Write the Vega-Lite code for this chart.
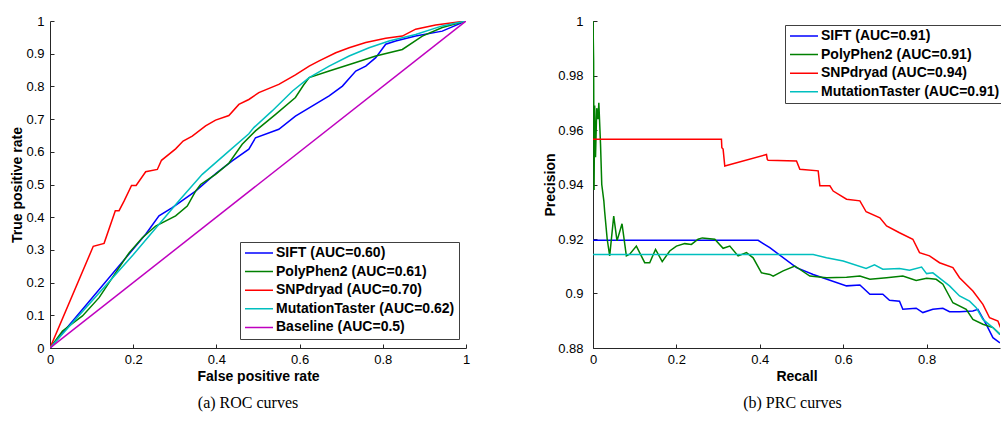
{
  "$schema": "https://vega.github.io/schema/vega-lite/v6.json",
  "padding": {"left": 10, "top": 15, "right": 0, "bottom": 4},
  "background": "white",
  "spacing": 73,
  "config": {
    "view": {"stroke": null},
    "font": "Liberation Sans",
    "axis": {
      "grid": false,
      "domainColor": "#262626",
      "tickColor": "#262626",
      "tickSize": -4,
      "labelFont": "Liberation Sans",
      "labelFontSize": 13,
      "labelColor": "black",
      "labelFlush": false,
      "labelOverlap": false,
      "titleFont": "Liberation Sans",
      "titleFontSize": 14,
      "titleFontWeight": "bold",
      "titleColor": "black"
    },
    "legend": {
      "orient": "none",
      "symbolType": "stroke",
      "symbolSize": 784,
      "symbolStrokeWidth": 1.5,
      "labelFont": "Liberation Sans",
      "labelFontSize": 14,
      "labelFontWeight": "bold",
      "labelColor": "black",
      "labelLimit": 400,
      "labelOffset": 2,
      "strokeColor": "#404040",
      "fillColor": "white",
      "padding": 4,
      "rowPadding": 4.6,
      "clipHeight": 14
    }
  },
  "resolve": {"scale": {"color": "independent"}, "legend": {"color": "independent"}},
  "hconcat": [
    {
      "width": 416,
      "height": 327,
      "title": {"text": "(a) ROC curves", "orient": "bottom", "font": "Liberation Serif", "fontSize": 16, "fontWeight": "normal", "color": "black", "frame": "group", "anchor": "middle", "dx": -10, "offset": 12},
      "data": {"values": [
        {"x": 0, "y": 0, "s": "SIFT (AUC=0.60)"},
        {"x": 0.23, "y": 0.348, "s": "SIFT (AUC=0.60)"},
        {"x": 0.262, "y": 0.404, "s": "SIFT (AUC=0.60)"},
        {"x": 0.294, "y": 0.429, "s": "SIFT (AUC=0.60)"},
        {"x": 0.35, "y": 0.48, "s": "SIFT (AUC=0.60)"},
        {"x": 0.4, "y": 0.535, "s": "SIFT (AUC=0.60)"},
        {"x": 0.438, "y": 0.572, "s": "SIFT (AUC=0.60)"},
        {"x": 0.478, "y": 0.608, "s": "SIFT (AUC=0.60)"},
        {"x": 0.494, "y": 0.643, "s": "SIFT (AUC=0.60)"},
        {"x": 0.55, "y": 0.669, "s": "SIFT (AUC=0.60)"},
        {"x": 0.59, "y": 0.709, "s": "SIFT (AUC=0.60)"},
        {"x": 0.63, "y": 0.74, "s": "SIFT (AUC=0.60)"},
        {"x": 0.671, "y": 0.771, "s": "SIFT (AUC=0.60)"},
        {"x": 0.703, "y": 0.801, "s": "SIFT (AUC=0.60)"},
        {"x": 0.735, "y": 0.847, "s": "SIFT (AUC=0.60)"},
        {"x": 0.759, "y": 0.862, "s": "SIFT (AUC=0.60)"},
        {"x": 0.783, "y": 0.888, "s": "SIFT (AUC=0.60)"},
        {"x": 0.807, "y": 0.929, "s": "SIFT (AUC=0.60)"},
        {"x": 0.831, "y": 0.939, "s": "SIFT (AUC=0.60)"},
        {"x": 0.879, "y": 0.954, "s": "SIFT (AUC=0.60)"},
        {"x": 0.943, "y": 0.969, "s": "SIFT (AUC=0.60)"},
        {"x": 1, "y": 1, "s": "SIFT (AUC=0.60)"},

        {"x": 0, "y": 0, "s": "PolyPhen2 (AUC=0.61)"},
        {"x": 0.03, "y": 0.052, "s": "PolyPhen2 (AUC=0.61)"},
        {"x": 0.078, "y": 0.098, "s": "PolyPhen2 (AUC=0.61)"},
        {"x": 0.118, "y": 0.154, "s": "PolyPhen2 (AUC=0.61)"},
        {"x": 0.15, "y": 0.215, "s": "PolyPhen2 (AUC=0.61)"},
        {"x": 0.19, "y": 0.291, "s": "PolyPhen2 (AUC=0.61)"},
        {"x": 0.222, "y": 0.337, "s": "PolyPhen2 (AUC=0.61)"},
        {"x": 0.254, "y": 0.373, "s": "PolyPhen2 (AUC=0.61)"},
        {"x": 0.302, "y": 0.404, "s": "PolyPhen2 (AUC=0.61)"},
        {"x": 0.33, "y": 0.434, "s": "PolyPhen2 (AUC=0.61)"},
        {"x": 0.35, "y": 0.48, "s": "PolyPhen2 (AUC=0.61)"},
        {"x": 0.362, "y": 0.5, "s": "PolyPhen2 (AUC=0.61)"},
        {"x": 0.398, "y": 0.531, "s": "PolyPhen2 (AUC=0.61)"},
        {"x": 0.43, "y": 0.565, "s": "PolyPhen2 (AUC=0.61)"},
        {"x": 0.462, "y": 0.623, "s": "PolyPhen2 (AUC=0.61)"},
        {"x": 0.494, "y": 0.664, "s": "PolyPhen2 (AUC=0.61)"},
        {"x": 0.543, "y": 0.715, "s": "PolyPhen2 (AUC=0.61)"},
        {"x": 0.59, "y": 0.766, "s": "PolyPhen2 (AUC=0.61)"},
        {"x": 0.61, "y": 0.805, "s": "PolyPhen2 (AUC=0.61)"},
        {"x": 0.623, "y": 0.827, "s": "PolyPhen2 (AUC=0.61)"},
        {"x": 0.671, "y": 0.847, "s": "PolyPhen2 (AUC=0.61)"},
        {"x": 0.735, "y": 0.873, "s": "PolyPhen2 (AUC=0.61)"},
        {"x": 0.783, "y": 0.893, "s": "PolyPhen2 (AUC=0.61)"},
        {"x": 0.847, "y": 0.913, "s": "PolyPhen2 (AUC=0.61)"},
        {"x": 0.895, "y": 0.954, "s": "PolyPhen2 (AUC=0.61)"},
        {"x": 0.943, "y": 0.98, "s": "PolyPhen2 (AUC=0.61)"},
        {"x": 1, "y": 1, "s": "PolyPhen2 (AUC=0.61)"},

        {"x": 0, "y": 0, "s": "SNPdryad (AUC=0.70)"},
        {"x": 0.104, "y": 0.311, "s": "SNPdryad (AUC=0.70)"},
        {"x": 0.13, "y": 0.32, "s": "SNPdryad (AUC=0.70)"},
        {"x": 0.157, "y": 0.42, "s": "SNPdryad (AUC=0.70)"},
        {"x": 0.166, "y": 0.42, "s": "SNPdryad (AUC=0.70)"},
        {"x": 0.178, "y": 0.449, "s": "SNPdryad (AUC=0.70)"},
        {"x": 0.196, "y": 0.497, "s": "SNPdryad (AUC=0.70)"},
        {"x": 0.207, "y": 0.497, "s": "SNPdryad (AUC=0.70)"},
        {"x": 0.23, "y": 0.539, "s": "SNPdryad (AUC=0.70)"},
        {"x": 0.258, "y": 0.546, "s": "SNPdryad (AUC=0.70)"},
        {"x": 0.268, "y": 0.574, "s": "SNPdryad (AUC=0.70)"},
        {"x": 0.302, "y": 0.609, "s": "SNPdryad (AUC=0.70)"},
        {"x": 0.32, "y": 0.633, "s": "SNPdryad (AUC=0.70)"},
        {"x": 0.342, "y": 0.648, "s": "SNPdryad (AUC=0.70)"},
        {"x": 0.374, "y": 0.679, "s": "SNPdryad (AUC=0.70)"},
        {"x": 0.398, "y": 0.697, "s": "SNPdryad (AUC=0.70)"},
        {"x": 0.43, "y": 0.711, "s": "SNPdryad (AUC=0.70)"},
        {"x": 0.454, "y": 0.745, "s": "SNPdryad (AUC=0.70)"},
        {"x": 0.478, "y": 0.76, "s": "SNPdryad (AUC=0.70)"},
        {"x": 0.502, "y": 0.781, "s": "SNPdryad (AUC=0.70)"},
        {"x": 0.55, "y": 0.806, "s": "SNPdryad (AUC=0.70)"},
        {"x": 0.59, "y": 0.835, "s": "SNPdryad (AUC=0.70)"},
        {"x": 0.623, "y": 0.862, "s": "SNPdryad (AUC=0.70)"},
        {"x": 0.647, "y": 0.878, "s": "SNPdryad (AUC=0.70)"},
        {"x": 0.687, "y": 0.903, "s": "SNPdryad (AUC=0.70)"},
        {"x": 0.719, "y": 0.918, "s": "SNPdryad (AUC=0.70)"},
        {"x": 0.759, "y": 0.934, "s": "SNPdryad (AUC=0.70)"},
        {"x": 0.807, "y": 0.947, "s": "SNPdryad (AUC=0.70)"},
        {"x": 0.847, "y": 0.954, "s": "SNPdryad (AUC=0.70)"},
        {"x": 0.879, "y": 0.975, "s": "SNPdryad (AUC=0.70)"},
        {"x": 0.927, "y": 0.988, "s": "SNPdryad (AUC=0.70)"},
        {"x": 1, "y": 1, "s": "SNPdryad (AUC=0.70)"},

        {"x": 0, "y": 0, "s": "MutationTaster (AUC=0.62)"},
        {"x": 0.2, "y": 0.285, "s": "MutationTaster (AUC=0.62)"},
        {"x": 0.31, "y": 0.45, "s": "MutationTaster (AUC=0.62)"},
        {"x": 0.366, "y": 0.531, "s": "MutationTaster (AUC=0.62)"},
        {"x": 0.43, "y": 0.602, "s": "MutationTaster (AUC=0.62)"},
        {"x": 0.478, "y": 0.655, "s": "MutationTaster (AUC=0.62)"},
        {"x": 0.49, "y": 0.674, "s": "MutationTaster (AUC=0.62)"},
        {"x": 0.534, "y": 0.725, "s": "MutationTaster (AUC=0.62)"},
        {"x": 0.583, "y": 0.786, "s": "MutationTaster (AUC=0.62)"},
        {"x": 0.623, "y": 0.827, "s": "MutationTaster (AUC=0.62)"},
        {"x": 0.671, "y": 0.862, "s": "MutationTaster (AUC=0.62)"},
        {"x": 0.719, "y": 0.893, "s": "MutationTaster (AUC=0.62)"},
        {"x": 0.767, "y": 0.918, "s": "MutationTaster (AUC=0.62)"},
        {"x": 0.815, "y": 0.939, "s": "MutationTaster (AUC=0.62)"},
        {"x": 0.879, "y": 0.959, "s": "MutationTaster (AUC=0.62)"},
        {"x": 0.943, "y": 0.985, "s": "MutationTaster (AUC=0.62)"},
        {"x": 1, "y": 1, "s": "MutationTaster (AUC=0.62)"},

        {"x": 0, "y": 0, "s": "Baseline (AUC=0.5)"},
        {"x": 1, "y": 1, "s": "Baseline (AUC=0.5)"}
      ]},
      "mark": {"type": "line", "strokeWidth": 1.5, "clip": true},
      "encoding": {
        "x": {"field": "x", "type": "quantitative", "scale": {"domain": [0, 1], "nice": false, "zero": false},
              "axis": {"title": "False positive rate", "values": [0, 0.2, 0.4, 0.6, 0.8, 1], "format": "~g", "labelPadding": 9, "titlePadding": 3}},
        "y": {"field": "y", "type": "quantitative", "scale": {"domain": [0, 1], "nice": false, "zero": false},
              "axis": {"title": "True positive rate", "values": [0, 0.1, 0.2, 0.3, 0.4, 0.5, 0.6, 0.7, 0.8, 0.9, 1], "format": "~g", "labelPadding": 10, "titlePadding": 1}},
        "color": {"field": "s", "type": "nominal",
                  "scale": {"domain": ["SIFT (AUC=0.60)", "PolyPhen2 (AUC=0.61)", "SNPdryad (AUC=0.70)", "MutationTaster (AUC=0.62)", "Baseline (AUC=0.5)"],
                            "range": ["#0000FF", "#008000", "#FF0000", "#00BFBF", "#BF00BF"]},
                  "legend": {"title": null, "orient": "none", "legendX": 190, "legendY": 221}}
      }
    },
    {
      "width": 407,
      "height": 327,
      "title": {"text": "(b) PRC curves", "orient": "bottom", "font": "Liberation Serif", "fontSize": 16, "fontWeight": "normal", "color": "black", "frame": "group", "anchor": "middle", "dx": -4, "offset": 12},
      "data": {"values": [
        {"x": 0, "y": 0.9195, "s": "SIFT (AUC=0.91)"},
        {"x": 0.396, "y": 0.9195, "s": "SIFT (AUC=0.91)"},
        {"x": 0.424, "y": 0.9168, "s": "SIFT (AUC=0.91)"},
        {"x": 0.488, "y": 0.9095, "s": "SIFT (AUC=0.91)"},
        {"x": 0.528, "y": 0.907, "s": "SIFT (AUC=0.91)"},
        {"x": 0.608, "y": 0.9028, "s": "SIFT (AUC=0.91)"},
        {"x": 0.64, "y": 0.9031, "s": "SIFT (AUC=0.91)"},
        {"x": 0.664, "y": 0.8997, "s": "SIFT (AUC=0.91)"},
        {"x": 0.695, "y": 0.8997, "s": "SIFT (AUC=0.91)"},
        {"x": 0.711, "y": 0.8975, "s": "SIFT (AUC=0.91)"},
        {"x": 0.735, "y": 0.8972, "s": "SIFT (AUC=0.91)"},
        {"x": 0.743, "y": 0.8942, "s": "SIFT (AUC=0.91)"},
        {"x": 0.775, "y": 0.8946, "s": "SIFT (AUC=0.91)"},
        {"x": 0.791, "y": 0.893, "s": "SIFT (AUC=0.91)"},
        {"x": 0.815, "y": 0.8942, "s": "SIFT (AUC=0.91)"},
        {"x": 0.839, "y": 0.8946, "s": "SIFT (AUC=0.91)"},
        {"x": 0.855, "y": 0.8933, "s": "SIFT (AUC=0.91)"},
        {"x": 0.879, "y": 0.8933, "s": "SIFT (AUC=0.91)"},
        {"x": 0.911, "y": 0.8936, "s": "SIFT (AUC=0.91)"},
        {"x": 0.923, "y": 0.8942, "s": "SIFT (AUC=0.91)"},
        {"x": 0.943, "y": 0.8887, "s": "SIFT (AUC=0.91)"},
        {"x": 0.959, "y": 0.8838, "s": "SIFT (AUC=0.91)"},
        {"x": 0.976, "y": 0.8819, "s": "SIFT (AUC=0.91)"},

        {"x": 0, "y": 1.0, "s": "PolyPhen2 (AUC=0.91)"},
        {"x": 0.0015, "y": 0.985, "s": "PolyPhen2 (AUC=0.91)"},
        {"x": 0.0025, "y": 0.938, "s": "PolyPhen2 (AUC=0.91)"},
        {"x": 0.004, "y": 0.969, "s": "PolyPhen2 (AUC=0.91)"},
        {"x": 0.006, "y": 0.95, "s": "PolyPhen2 (AUC=0.91)"},
        {"x": 0.009, "y": 0.968, "s": "PolyPhen2 (AUC=0.91)"},
        {"x": 0.012, "y": 0.964, "s": "PolyPhen2 (AUC=0.91)"},
        {"x": 0.014, "y": 0.97, "s": "PolyPhen2 (AUC=0.91)"},
        {"x": 0.018, "y": 0.955, "s": "PolyPhen2 (AUC=0.91)"},
        {"x": 0.021, "y": 0.94, "s": "PolyPhen2 (AUC=0.91)"},
        {"x": 0.026, "y": 0.934, "s": "PolyPhen2 (AUC=0.91)"},
        {"x": 0.028, "y": 0.93, "s": "PolyPhen2 (AUC=0.91)"},
        {"x": 0.034, "y": 0.92, "s": "PolyPhen2 (AUC=0.91)"},
        {"x": 0.04, "y": 0.9138, "s": "PolyPhen2 (AUC=0.91)"},
        {"x": 0.0497, "y": 0.9284, "s": "PolyPhen2 (AUC=0.91)"},
        {"x": 0.0576, "y": 0.9193, "s": "PolyPhen2 (AUC=0.91)"},
        {"x": 0.0696, "y": 0.9256, "s": "PolyPhen2 (AUC=0.91)"},
        {"x": 0.08, "y": 0.9138, "s": "PolyPhen2 (AUC=0.91)"},
        {"x": 0.088, "y": 0.9144, "s": "PolyPhen2 (AUC=0.91)"},
        {"x": 0.104, "y": 0.9174, "s": "PolyPhen2 (AUC=0.91)"},
        {"x": 0.124, "y": 0.9113, "s": "PolyPhen2 (AUC=0.91)"},
        {"x": 0.136, "y": 0.9113, "s": "PolyPhen2 (AUC=0.91)"},
        {"x": 0.15, "y": 0.9162, "s": "PolyPhen2 (AUC=0.91)"},
        {"x": 0.166, "y": 0.9117, "s": "PolyPhen2 (AUC=0.91)"},
        {"x": 0.184, "y": 0.9156, "s": "PolyPhen2 (AUC=0.91)"},
        {"x": 0.2, "y": 0.9174, "s": "PolyPhen2 (AUC=0.91)"},
        {"x": 0.22, "y": 0.9183, "s": "PolyPhen2 (AUC=0.91)"},
        {"x": 0.236, "y": 0.918, "s": "PolyPhen2 (AUC=0.91)"},
        {"x": 0.252, "y": 0.9199, "s": "PolyPhen2 (AUC=0.91)"},
        {"x": 0.262, "y": 0.9204, "s": "PolyPhen2 (AUC=0.91)"},
        {"x": 0.292, "y": 0.9199, "s": "PolyPhen2 (AUC=0.91)"},
        {"x": 0.312, "y": 0.9166, "s": "PolyPhen2 (AUC=0.91)"},
        {"x": 0.328, "y": 0.9174, "s": "PolyPhen2 (AUC=0.91)"},
        {"x": 0.348, "y": 0.9138, "s": "PolyPhen2 (AUC=0.91)"},
        {"x": 0.368, "y": 0.915, "s": "PolyPhen2 (AUC=0.91)"},
        {"x": 0.384, "y": 0.9131, "s": "PolyPhen2 (AUC=0.91)"},
        {"x": 0.404, "y": 0.9076, "s": "PolyPhen2 (AUC=0.91)"},
        {"x": 0.424, "y": 0.907, "s": "PolyPhen2 (AUC=0.91)"},
        {"x": 0.432, "y": 0.9064, "s": "PolyPhen2 (AUC=0.91)"},
        {"x": 0.456, "y": 0.9083, "s": "PolyPhen2 (AUC=0.91)"},
        {"x": 0.484, "y": 0.9101, "s": "PolyPhen2 (AUC=0.91)"},
        {"x": 0.52, "y": 0.9064, "s": "PolyPhen2 (AUC=0.91)"},
        {"x": 0.56, "y": 0.9058, "s": "PolyPhen2 (AUC=0.91)"},
        {"x": 0.608, "y": 0.906, "s": "PolyPhen2 (AUC=0.91)"},
        {"x": 0.64, "y": 0.9064, "s": "PolyPhen2 (AUC=0.91)"},
        {"x": 0.664, "y": 0.9052, "s": "PolyPhen2 (AUC=0.91)"},
        {"x": 0.704, "y": 0.9058, "s": "PolyPhen2 (AUC=0.91)"},
        {"x": 0.743, "y": 0.9064, "s": "PolyPhen2 (AUC=0.91)"},
        {"x": 0.775, "y": 0.9048, "s": "PolyPhen2 (AUC=0.91)"},
        {"x": 0.8, "y": 0.9056, "s": "PolyPhen2 (AUC=0.91)"},
        {"x": 0.823, "y": 0.9052, "s": "PolyPhen2 (AUC=0.91)"},
        {"x": 0.839, "y": 0.9034, "s": "PolyPhen2 (AUC=0.91)"},
        {"x": 0.863, "y": 0.8966, "s": "PolyPhen2 (AUC=0.91)"},
        {"x": 0.895, "y": 0.8942, "s": "PolyPhen2 (AUC=0.91)"},
        {"x": 0.911, "y": 0.8905, "s": "PolyPhen2 (AUC=0.91)"},
        {"x": 0.935, "y": 0.8887, "s": "PolyPhen2 (AUC=0.91)"},
        {"x": 0.959, "y": 0.8875, "s": "PolyPhen2 (AUC=0.91)"},
        {"x": 0.976, "y": 0.885, "s": "PolyPhen2 (AUC=0.91)"},

        {"x": 0, "y": 0.9566, "s": "SNPdryad (AUC=0.94)"},
        {"x": 0.308, "y": 0.9566, "s": "SNPdryad (AUC=0.94)"},
        {"x": 0.309, "y": 0.9535, "s": "SNPdryad (AUC=0.94)"},
        {"x": 0.312, "y": 0.953, "s": "SNPdryad (AUC=0.94)"},
        {"x": 0.316, "y": 0.9468, "s": "SNPdryad (AUC=0.94)"},
        {"x": 0.416, "y": 0.951, "s": "SNPdryad (AUC=0.94)"},
        {"x": 0.418, "y": 0.9492, "s": "SNPdryad (AUC=0.94)"},
        {"x": 0.42, "y": 0.9489, "s": "SNPdryad (AUC=0.94)"},
        {"x": 0.488, "y": 0.9486, "s": "SNPdryad (AUC=0.94)"},
        {"x": 0.496, "y": 0.9456, "s": "SNPdryad (AUC=0.94)"},
        {"x": 0.54, "y": 0.945, "s": "SNPdryad (AUC=0.94)"},
        {"x": 0.544, "y": 0.9395, "s": "SNPdryad (AUC=0.94)"},
        {"x": 0.568, "y": 0.9395, "s": "SNPdryad (AUC=0.94)"},
        {"x": 0.576, "y": 0.9376, "s": "SNPdryad (AUC=0.94)"},
        {"x": 0.608, "y": 0.9346, "s": "SNPdryad (AUC=0.94)"},
        {"x": 0.64, "y": 0.934, "s": "SNPdryad (AUC=0.94)"},
        {"x": 0.655, "y": 0.93, "s": "SNPdryad (AUC=0.94)"},
        {"x": 0.688, "y": 0.9278, "s": "SNPdryad (AUC=0.94)"},
        {"x": 0.704, "y": 0.9248, "s": "SNPdryad (AUC=0.94)"},
        {"x": 0.735, "y": 0.9223, "s": "SNPdryad (AUC=0.94)"},
        {"x": 0.767, "y": 0.9199, "s": "SNPdryad (AUC=0.94)"},
        {"x": 0.783, "y": 0.915, "s": "SNPdryad (AUC=0.94)"},
        {"x": 0.807, "y": 0.9138, "s": "SNPdryad (AUC=0.94)"},
        {"x": 0.831, "y": 0.9113, "s": "SNPdryad (AUC=0.94)"},
        {"x": 0.863, "y": 0.9095, "s": "SNPdryad (AUC=0.94)"},
        {"x": 0.879, "y": 0.9058, "s": "SNPdryad (AUC=0.94)"},
        {"x": 0.911, "y": 0.9009, "s": "SNPdryad (AUC=0.94)"},
        {"x": 0.935, "y": 0.896, "s": "SNPdryad (AUC=0.94)"},
        {"x": 0.951, "y": 0.8911, "s": "SNPdryad (AUC=0.94)"},
        {"x": 0.971, "y": 0.8899, "s": "SNPdryad (AUC=0.94)"},
        {"x": 0.977, "y": 0.8875, "s": "SNPdryad (AUC=0.94)"},

        {"x": 0, "y": 0.9143, "s": "MutationTaster (AUC=0.91)"},
        {"x": 0.528, "y": 0.9143, "s": "MutationTaster (AUC=0.91)"},
        {"x": 0.56, "y": 0.9131, "s": "MutationTaster (AUC=0.91)"},
        {"x": 0.6, "y": 0.9119, "s": "MutationTaster (AUC=0.91)"},
        {"x": 0.655, "y": 0.9092, "s": "MutationTaster (AUC=0.91)"},
        {"x": 0.675, "y": 0.9105, "s": "MutationTaster (AUC=0.91)"},
        {"x": 0.695, "y": 0.9089, "s": "MutationTaster (AUC=0.91)"},
        {"x": 0.735, "y": 0.9092, "s": "MutationTaster (AUC=0.91)"},
        {"x": 0.759, "y": 0.9085, "s": "MutationTaster (AUC=0.91)"},
        {"x": 0.788, "y": 0.9097, "s": "MutationTaster (AUC=0.91)"},
        {"x": 0.8, "y": 0.9073, "s": "MutationTaster (AUC=0.91)"},
        {"x": 0.815, "y": 0.9076, "s": "MutationTaster (AUC=0.91)"},
        {"x": 0.835, "y": 0.9052, "s": "MutationTaster (AUC=0.91)"},
        {"x": 0.855, "y": 0.9028, "s": "MutationTaster (AUC=0.91)"},
        {"x": 0.879, "y": 0.8991, "s": "MutationTaster (AUC=0.91)"},
        {"x": 0.903, "y": 0.8972, "s": "MutationTaster (AUC=0.91)"},
        {"x": 0.919, "y": 0.8948, "s": "MutationTaster (AUC=0.91)"},
        {"x": 0.935, "y": 0.8905, "s": "MutationTaster (AUC=0.91)"},
        {"x": 0.959, "y": 0.8875, "s": "MutationTaster (AUC=0.91)"},
        {"x": 0.976, "y": 0.885, "s": "MutationTaster (AUC=0.91)"}
      ]},
      "mark": {"type": "line", "strokeWidth": 1.5, "clip": true},
      "encoding": {
        "x": {"field": "x", "type": "quantitative", "scale": {"domain": [0, 0.976], "nice": false, "zero": false},
              "axis": {"title": "Recall", "values": [0, 0.2, 0.4, 0.6, 0.8], "format": "~g", "labelPadding": 9, "titlePadding": 3}},
        "y": {"field": "y", "type": "quantitative", "scale": {"domain": [0.88, 1], "nice": false, "zero": false},
              "axis": {"title": "Precision", "values": [0.88, 0.9, 0.92, 0.94, 0.96, 0.98, 1], "format": "~g", "labelPadding": 14, "titlePadding": 0}},
        "color": {"field": "s", "type": "nominal",
                  "scale": {"domain": ["SIFT (AUC=0.91)", "PolyPhen2 (AUC=0.91)", "SNPdryad (AUC=0.94)", "MutationTaster (AUC=0.91)"],
                            "range": ["#0000FF", "#008000", "#FF0000", "#00BFBF"]},
                  "legend": {"title": null, "orient": "none", "legendX": 192, "legendY": 4}}
      }
    }
  ]
}
